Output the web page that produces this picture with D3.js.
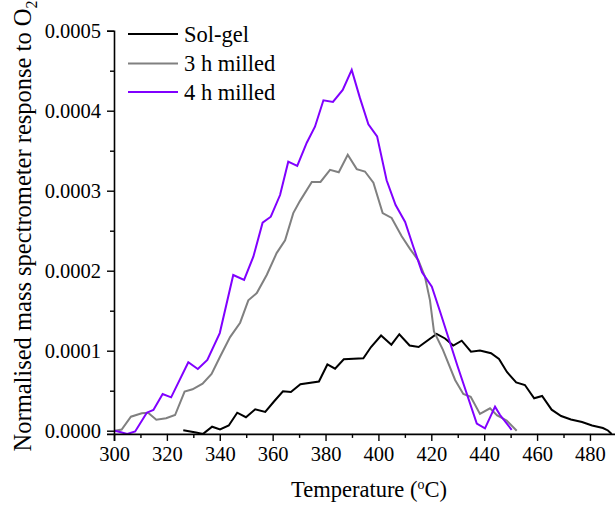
<!DOCTYPE html>
<html>
<head>
<meta charset="utf-8">
<script src="https://cdn.jsdelivr.net/npm/d3@7"></script>
<style>
  body { margin: 0; background: #fff; }
  svg { display: block; }
</style>
</head>
<body>
<svg id="chart" width="615" height="508"></svg>
<script>
// [temperature (°C), normalised response]
const solGel = [
  [326.2, 0.0000005], [331.0, -0.0000023], [333.7, -0.000004], [337.1, 0.000005],
  [340.1, 0.0000015], [343.4, 0.0000065], [346.6, 0.0000225], [349.9, 0.0000168],
  [353.4, 0.0000268], [357.2, 0.0000234], [360.5, 0.0000365], [363.9, 0.0000493],
  [366.9, 0.0000484], [370.5, 0.000058], [377.5, 0.0000615], [380.7, 0.0000828],
  [383.6, 0.0000775], [386.9, 0.0000893], [394.3, 0.0000905], [397.2, 0.0001046],
  [401.0, 0.000119], [404.9, 0.0001075], [407.9, 0.0001206], [411.8, 0.0001065],
  [415.2, 0.0001046], [422.0, 0.0001211], [425.2, 0.0001153], [428.3, 0.0001065],
  [431.5, 0.0001125], [435.0, 0.0000988], [438.4, 0.0001003], [442.6, 0.0000968],
  [445.6, 0.0000896], [448.6, 0.0000734], [452.1, 0.0000603], [455.4, 0.0000571],
  [458.9, 0.0000405], [461.9, 0.0000434], [465.5, 0.0000263], [469.1, 0.0000184],
  [472.8, 0.000014], [477.0, 0.0000109], [480.8, 0.0000065], [484.9, 0.0000034],
  [486.8, 0.0000003], [488.2, -0.000004]
];

const milled3h = [
  [300.4, 0], [302.9, 0.0000015], [306.4, 0.0000175], [310.5, 0.0000218],
  [312.9, 0.0000225], [316.0, 0.0000138], [319.7, 0.0000155], [323.1, 0.0000196],
  [326.7, 0.0000488], [329.7, 0.0000518], [333.5, 0.0000588], [336.9, 0.0000709],
  [340.1, 0.0000925], [343.9, 0.000117], [347.7, 0.000135], [350.8, 0.000163],
  [354.0, 0.000172], [357.8, 0.000195], [361.5, 0.000222], [364.7, 0.000238],
  [367.8, 0.000272], [370.3, 0.000287], [374.8, 0.000311], [378.1, 0.000311],
  [381.7, 0.000326], [385.0, 0.000323], [388.4, 0.000345], [391.8, 0.000327],
  [394.9, 0.000324], [398.1, 0.00031], [401.6, 0.000272], [405.0, 0.000266],
  [408.8, 0.000243], [412.0, 0.000227], [415.1, 0.000213], [417.6, 0.0001925],
  [419.5, 0.000163], [421.0, 0.000124], [424.4, 0.000101], [429.0, 0.0000634],
  [432.1, 0.0000459], [434.9, 0.0000425], [438.4, 0.0000209], [442.2, 0.000028],
  [444.9, 0.000019], [448.5, 0.0000128], [452.3, 0]
];

const milled4h = [
  [300.4, 0], [302.6, -0.000002], [305.0, -0.000004], [308.0, -0.000001],
  [312.4, 0.0000225], [314.9, 0.0000259], [318.4, 0.0000459], [321.6, 0.0000417],
  [328.1, 0.0000855], [331.7, 0.0000771], [335.3, 0.0000884], [340.0, 0.000122],
  [345.1, 0.0001946], [349.2, 0.0001884], [352.7, 0.0002175], [356.2, 0.00026],
  [359.3, 0.0002675], [362.8, 0.0002946], [365.9, 0.0003363], [369.3, 0.0003309],
  [372.9, 0.00036], [376.0, 0.00038], [379.2, 0.000413], [382.8, 0.000411],
  [386.5, 0.000426], [389.9, 0.000451], [393.0, 0.000416], [396.2, 0.000383],
  [399.5, 0.000368], [403.1, 0.000313], [406.5, 0.000282], [410.1, 0.000261],
  [413.2, 0.00023], [416.5, 0.000198], [420.2, 0.00018], [423.3, 0.000149],
  [430.0, 0.00008], [437.2, 0.000009], [440.3, 0.000003], [444.1, 0.00003],
  [446.0, 0.0000196], [450.4, 0.000001]
];

const seriesNames = ['Sol-gel', '3 h milled', '4 h milled'];
const seriesColors = ['#000000', '#808080', '#8000ff'];
const seriesData = [solGel, milled3h, milled4h];

const xMajorTicks = [300, 320, 340, 360, 380, 400, 420, 440, 460, 480];
const xMinorTicks = [310, 330, 350, 370, 390, 410, 430, 450, 470, 490];
const yMajorTicks = [0, 0.0001, 0.0002, 0.0003, 0.0004, 0.0005];
const yMinorTicks = [0.00005, 0.00015, 0.00025, 0.00035, 0.00045];

const font = 'Liberation Serif, Times New Roman, serif';
const svg = d3.select('#chart');

const x = d3.scaleLinear().domain([300, 490]).range([114, 616.4]);
const y = d3.scaleLinear().domain([-0.000004, 0.0005]).range([433.9, 30.7]);

// curves (drawn first so axes sit on top)
const line = d3.line().x(d => x(d[0])).y(d => y(d[1]));
seriesData.forEach((data, i) => {
  svg.append('path')
    .datum(data)
    .attr('fill', 'none')
    .attr('stroke', seriesColors[i])
    .attr('stroke-width', 2)
    .attr('stroke-linejoin', 'miter')
    .attr('d', line);
});

// x axis
const xAxis = svg.append('g')
  .attr('transform', `translate(0,${y.range()[0]})`)
  .call(d3.axisBottom(x).tickValues(xMajorTicks).tickSize(7).tickPadding(4).tickFormat(d3.format('d')));
xAxis.append('g').call(d3.axisBottom(x).tickValues(xMinorTicks).tickSize(4).tickFormat(''))
  .select('.domain').remove();

// y axis
const yAxis = svg.append('g')
  .attr('transform', `translate(${x.range()[0]},0)`)
  .call(d3.axisLeft(y).tickValues(yMajorTicks).tickSize(7).tickPadding(6).tickFormat(d3.format('.4f')));
yAxis.append('g').call(d3.axisLeft(y).tickValues(yMinorTicks).tickSize(4).tickFormat(''))
  .select('.domain').remove();

svg.selectAll('.domain').attr('stroke', '#000').attr('stroke-width', 1.6);
svg.selectAll('.tick line').attr('stroke', '#000').attr('stroke-width', 1.4);
svg.selectAll('.tick text')
  .attr('font-family', font)
  .attr('font-size', '20.5px')
  .attr('fill', '#000');
xAxis.selectAll('.tick text').attr('dy', '0.8em');
yAxis.selectAll('.tick text').attr('dy', '0.34em');

// axis titles
const xTitle = svg.append('text')
  .attr('x', 369)
  .attr('y', 497)
  .attr('text-anchor', 'middle')
  .attr('font-family', font)
  .attr('font-size', '22.5px')
  .attr('fill', '#000');
xTitle.append('tspan').text('Temperature (');
xTitle.append('tspan').attr('font-size', '14px').attr('dy', '-8').text('o');
xTitle.append('tspan').attr('dy', '8').text('C)');

const yTitle = svg.append('text')
  .attr('transform', 'translate(31,226) rotate(-90)')
  .attr('text-anchor', 'middle')
  .attr('font-family', font)
  .attr('font-size', '24.5px')
  .attr('fill', '#000');
yTitle.append('tspan').text('Normalised mass spectrometer response to O');
yTitle.append('tspan').attr('font-size', '16px').attr('dy', '6').text('2');

// legend
const legendY = [34, 63.5, 92];
seriesNames.forEach((name, i) => {
  svg.append('line')
    .attr('x1', 128).attr('x2', 178)
    .attr('y1', legendY[i]).attr('y2', legendY[i])
    .attr('stroke', seriesColors[i])
    .attr('stroke-width', 2);
  svg.append('text')
    .attr('x', 184)
    .attr('y', legendY[i])
    .attr('dy', '0.34em')
    .attr('font-family', font)
    .attr('font-size', '22.5px')
    .attr('fill', '#000')
    .text(name);
});
</script>
</body>
</html>
